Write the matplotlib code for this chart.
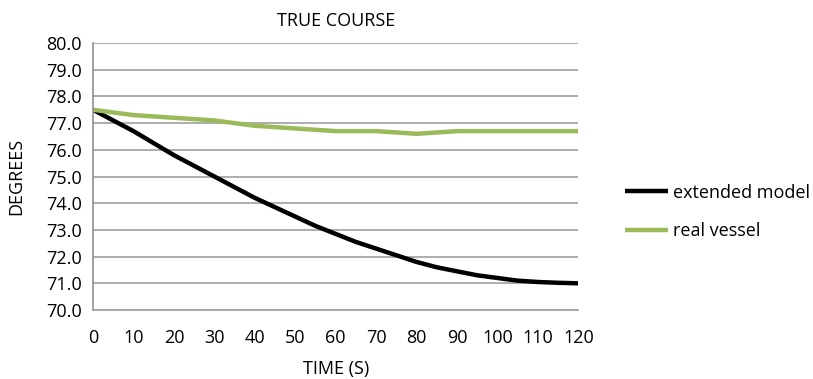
import matplotlib
matplotlib.use("Agg")
import matplotlib.pyplot as plt

plt.rcParams['font.family'] = ['Open Sans', 'DejaVu Sans']

time_s = [0, 5, 10, 15, 20, 25, 30, 35, 40, 45, 50, 55, 60,
          65, 70, 75, 80, 85, 90, 95, 100, 105, 110, 115, 120]
extended_model = [77.5, 77.1, 76.7, 76.25, 75.8, 75.4, 75.0, 74.6, 74.2, 73.85, 73.5, 73.15, 72.85,
                  72.55, 72.3, 72.05, 71.8, 71.6, 71.45, 71.3, 71.2, 71.1, 71.05, 71.02, 71.0]
real_vessel = [77.5, 77.4, 77.3, 77.25, 77.2, 77.15, 77.1, 77.0, 76.9, 76.85, 76.8, 76.75, 76.7,
               76.7, 76.7, 76.65, 76.6, 76.65, 76.7, 76.7, 76.7, 76.7, 76.7, 76.7, 76.7]
x_ticks = list(range(0, 121, 10))
y_ticks = [70 + i for i in range(11)]

fig = plt.figure(figsize=(8.13, 3.79), dpi=100)
ax = fig.add_axes([0.1144, 0.182, 0.597, 0.7045])

ax.plot(time_s, extended_model, color='black', lw=3.2, label='extended model', solid_capstyle='butt')
ax.plot(time_s, real_vessel, color='#9bbb59', lw=3.2, label='real vessel', solid_capstyle='butt')

ax.set_xlim(0, 120)
ax.set_ylim(70, 80)
ax.set_xticks(x_ticks)
ax.set_yticks(y_ticks)
ax.set_yticklabels(['%.1f' % v for v in y_ticks])
ax.tick_params(length=0, labelsize=13, pad=8)
ax.tick_params(axis='x', pad=14)
ax.grid(axis='y', color='#a0a0a0', lw=1.2)
ax.set_axisbelow(True)
for s in ['top', 'right']:
    ax.spines[s].set_visible(False)
ax.spines['left'].set_color('#909090')
ax.spines['bottom'].set_color('#a0a0a0')
ax.spines['left'].set_linewidth(1.2)
ax.spines['bottom'].set_linewidth(1.2)

ax.set_title('TRUE COURSE', fontsize=13, pad=12)
ax.set_xlabel('TIME (S)', fontsize=13, labelpad=9)
ax.set_ylabel('DEGREES', fontsize=13, labelpad=15)

ax.legend(loc='center left', bbox_to_anchor=(1.062, 0.367), frameon=False,
          fontsize=13, handlelength=2.4, handletextpad=0.3, labelspacing=1.15)

fig.savefig('out.png', dpi=100)
